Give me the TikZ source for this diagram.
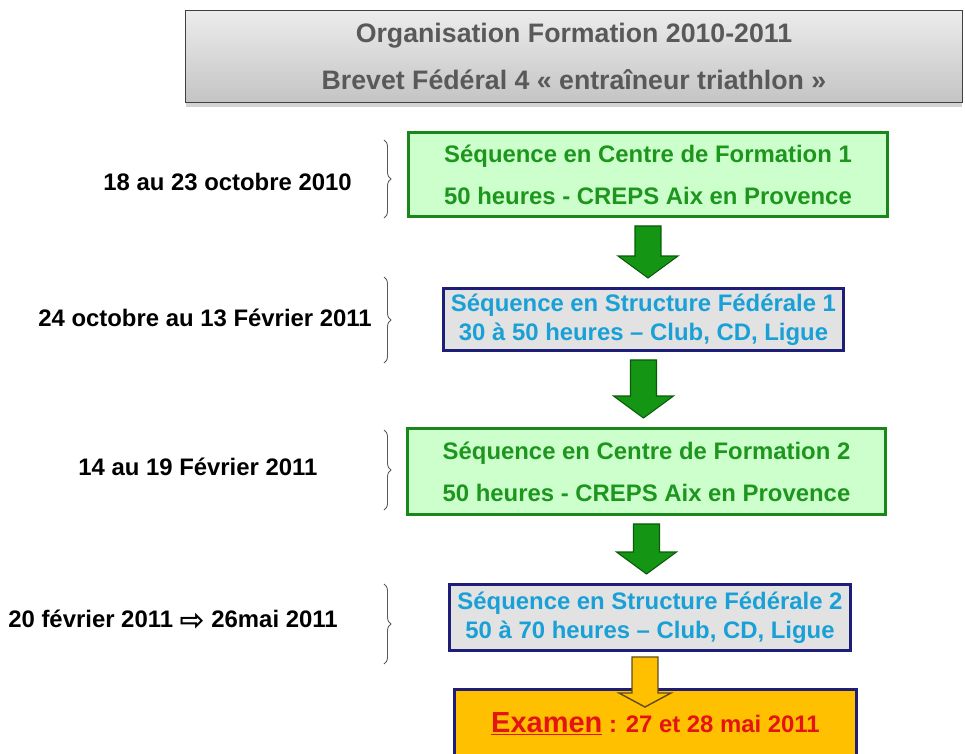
\documentclass[tikz,border=0pt]{standalone}
\usepackage{fontspec}
\setmainfont{Liberation Sans}
\newfontfamily\symbfont{DejaVu Sans}
\usetikzlibrary{calc,shadows,decorations.pathreplacing}

\definecolor{gristitre}{RGB}{89,89,89}
\definecolor{grishaut}{RGB}{236,236,236}
\definecolor{grisbas}{RGB}{196,196,196}
\definecolor{vertbord}{RGB}{25,135,25}
\definecolor{vertfond}{RGB}{204,255,204}
\definecolor{verttexte}{RGB}{30,150,30}
\definecolor{vertfleche}{RGB}{20,150,20}
\definecolor{vertsombre}{RGB}{10,90,10}
\definecolor{bleubord}{RGB}{30,30,120}
\definecolor{bleufond}{RGB}{226,226,226}
\definecolor{bleutexte}{RGB}{25,160,215}
\definecolor{orangeex}{RGB}{255,192,0}
\definecolor{brunfleche}{RGB}{95,75,30}
\definecolor{rougeex}{RGB}{228,20,20}
\definecolor{grisacc}{RGB}{90,90,90}

% fleche pleine : style, depart, pointe, demi-tige, demi-tete, longueur tete
\newcommand{\fleche}[6]{%
  \filldraw[#1] let \p1=(#2), \p2=(#3) in
    (\x1-#4,\y1) -- (\x1+#4,\y1) -- (\x1+#4,\y2+#6) -- (\x1+#5,\y2+#6)
    -- (\x1,\y2) -- (\x1-#5,\y2+#6) -- (\x1-#4,\y2+#6) -- cycle;}

\begin{document}
\begin{tikzpicture}[x=0.02cm,y=-0.02cm,
  boite/.style={draw,line width=1.7pt,inner sep=0pt,align=center},
  seqcentre/.style={boite,draw=vertbord,fill=vertfond,text=verttexte,
    font=\bfseries\fontsize{13.6}{23.8}\selectfont},
  seqstruct/.style={boite,draw=bleubord,fill=bleufond,text=bleutexte,
    font=\bfseries\fontsize{13.6}{16.4}\selectfont},
  date/.style={anchor=west,inner sep=0pt,font=\bfseries\fontsize{13.6}{16}\selectfont},
  accolade/.style={draw=grisacc,line width=0.5pt,decorate,decoration={brace,amplitude=4pt}},
  flechev/.style={fill=vertfleche,draw=vertsombre,line width=0.6pt},
  flecheo/.style={fill=orangeex,draw=brunfleche,line width=0.8pt}]
\useasboundingbox (0,0) rectangle (965,754);
\clip (0,0) rectangle (965,754);

% titre
\node[draw=black!75,line width=0.6pt,top color=grishaut,bottom color=grisbas,
  drop shadow={shadow xshift=0pt,shadow yshift=-2.5pt,opacity=0.35},
  minimum width=15.54cm,minimum height=1.84cm,inner sep=0pt,align=center,text=gristitre,
  font=\bfseries\fontsize{15.2}{26.6}\selectfont] (titre) at (574,56.5)
  {Organisation Formation 2010-2011\\Brevet Fédéral 4 « entraîneur triathlon »};

% sequences
\node[seqcentre,minimum width=9.58cm,minimum height=1.68cm] (g1) at (648,174.5)
  {Séquence en Centre de Formation 1\\50 heures - CREPS Aix en Provence};
\node[seqstruct,minimum width=8cm,minimum height=1.24cm] (b1) at (643.5,319.5)
  {Séquence en Structure Fédérale 1\\30 à 50 heures – Club, CD, Ligue};
\node[seqcentre,minimum width=9.56cm,minimum height=1.72cm] (g2) at (646.5,471.5)
  {Séquence en Centre de Formation 2\\50 heures - CREPS Aix en Provence};
\node[seqstruct,minimum width=8.02cm,minimum height=1.32cm] (b2) at (650,617.5)
  {Séquence en Structure Fédérale 2\\50 à 70 heures – Club, CD, Ligue};
\node[boite,draw=bleubord,fill=orangeex,text=rougeex,minimum width=8.04cm,minimum height=1.38cm,
  font=\bfseries\fontsize{13.6}{16}\selectfont] (ex) at (655.5,724)
  {{\fontsize{16.5}{18}\selectfont\underline{Examen}} : 27 et 28 mai 2011};

% fleches
\foreach \a/\b in {g1/b1,b1/g2,g2/b2}
  \fleche{flechev}{$(\a.south)+(0,8)$}{$(\b.north)+(0,-9)$}{0.26cm}{0.6cm}{0.44cm};
\fleche{flecheo}{$(b2.south)+(-5,5)$}{$(ex.north)+(-5,19)$}{0.26cm}{0.52cm}{0.28cm};

% dates
\node[date] (d1) at (103,182) {18 au 23 octobre 2010};
\node[date] (d2) at (38,318) {24 octobre au 13 Février 2011};
\node[date] (d3) at (78,467) {14 au 19 Février 2011};
\node[date] (d4) at (8,620) {20 février 2011 \raisebox{-1.5pt}{\symbfont\fontsize{17}{16}\selectfont ⇨} 26mai 2011};

% accolades
\foreach \h/\b in {140/218,277/363,430/510,584/664}
  \draw[accolade] (384,\h) -- (384,\b);
\end{tikzpicture}
\end{document}
